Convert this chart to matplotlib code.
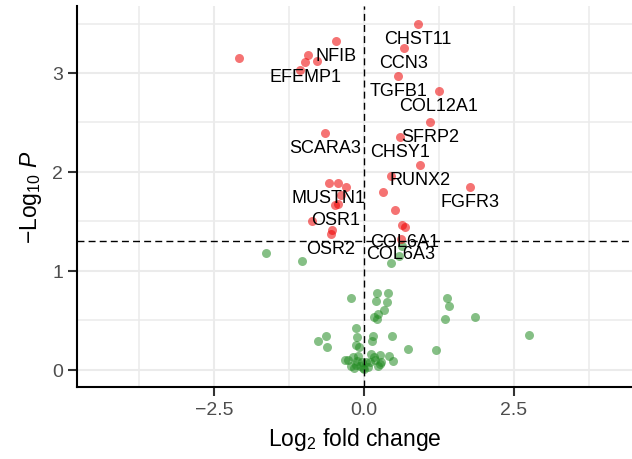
import numpy as np
import matplotlib as mpl
mpl.use("Agg")
import matplotlib.pyplot as plt

plt.rcParams['font.family'] = ['Liberation Sans', 'DejaVu Sans']
plt.rcParams['mathtext.fontset'] = 'custom'
plt.rcParams['mathtext.rm'] = 'Liberation Sans'
plt.rcParams['mathtext.it'] = 'Liberation Sans:italic'

# labelled genes
lab_genes = ["CHST11", "CCN3", "TGFB1", "COL12A1", "SFRP2", "CHSY1", "RUNX2", "FGFR3",
             "COL6A1", "COL6A3", "NFIB", "EFEMP1", "SCARA3", "MUSTN1", "OSR1", "OSR2"]
lab_fc = [0.90, 0.66, 0.57, 1.25, 1.11, 0.60, 0.94, 1.77,
          0.68, 0.62, -0.47, -0.98, -0.65, -0.59, -0.48, -0.55]
lab_p = [3.50, 3.25, 2.97, 2.82, 2.50, 2.35, 2.07, 1.85,
         1.44, 1.32, 3.32, 3.11, 2.39, 1.89, 1.67, 1.37]

# other genes (no label)
other_fc = [-2.08, -0.94, -0.79, -1.06, 0.45, 0.32, 0.52, 0.63, -0.44, -0.30, -0.38, -0.43,
            -0.86, -0.53,
            -1.64, -1.04, 0.45, 0.59, 0.64, -0.21, 0.21, 0.40, 0.20, 0.39, 0.33, 0.24, 0.16,
            0.21, 1.39, 1.42, 1.36, 1.85, 2.76, -0.13, -0.64, -0.76, -0.62, -0.12, -0.14,
            -0.09, 0.15, 0.13, 0.47, 0.73, 1.21,
            -0.32, -0.26, -0.19, -0.10, -0.12, -0.21, -0.17, -0.07, -0.01, 0.005, 0.04, 0.10,
            0.11, 0.16, 0.27, 0.24, 0.27, 0.29, 0.41, 0.48, -0.04, -0.14, 0.06, 0.19]
other_p = [3.15, 3.18, 3.12, 3.03, 1.96, 1.80, 1.61, 1.46, 1.89, 1.85, 1.77, 1.68,
           1.50, 1.41,
           1.18, 1.10, 1.08, 1.15, 1.25, 0.725, 0.775, 0.78, 0.695, 0.685, 0.60, 0.56, 0.53,
           0.51, 0.72, 0.64, 0.51, 0.53, 0.35, 0.42, 0.34, 0.29, 0.23, 0.33, 0.25,
           0.23, 0.34, 0.29, 0.34, 0.21, 0.20,
           0.095, 0.10, 0.13, 0.14, 0.09, 0.04, 0.02, 0.04, 0.02, 0.007, 0.075, 0.075,
           0.16, 0.125, 0.15, 0.04, 0.06, 0.08, 0.14, 0.09, 0.075, 0.05, 0.03, 0.10]

p_cut = -np.log10(0.05)

fc = np.array(lab_fc + other_fc)
p = np.array(lab_p + other_p)
sig = p > p_cut

fig = plt.figure(figsize=(6.32, 4.6), dpi=100)
ax = fig.add_axes([77/632, 72/460, 555/632, 381/460])

ax.scatter(fc[~sig], p[~sig], s=42, color='forestgreen', alpha=0.55, linewidths=0, zorder=3)
ax.scatter(fc[sig], p[sig], s=42, color='#ee0000', alpha=0.55, linewidths=0, zorder=3)

ax.axhline(p_cut, color='black', lw=1.0, dashes=(5, 3), zorder=4)
ax.axvline(0, color='black', lw=1.0, dashes=(5, 3), zorder=4)

for g, x, y in zip(lab_genes, lab_fc, lab_p):
    ax.annotate(g, (x, y), xytext=(0, -10.5), textcoords='offset points',
                ha='center', va='center', fontsize=13, color='black', zorder=5)

ax.set_xlim(-4.79, 4.474)
ax.set_ylim(-0.175, 3.677)
ax.set_xticks([-2.5, 0.0, 2.5])
ax.set_xticklabels(['\u22122.5', '0.0', '2.5'])
ax.set_xticks([-3.75, -1.25, 1.25, 3.75], minor=True)
ax.set_yticks([0, 1, 2, 3])
ax.set_yticks([0.5, 1.5, 2.5, 3.5], minor=True)

ax.grid(which='major', color='#ebebeb', lw=1.5, zorder=0)
ax.grid(which='minor', color='#ebebeb', lw=1.1, zorder=0)
ax.set_axisbelow(True)

for s in ['top', 'right']:
    ax.spines[s].set_visible(False)
for s in ['left', 'bottom']:
    ax.spines[s].set_linewidth(1.5)
    ax.spines[s].set_color('black')

ax.tick_params(which='major', length=6.5, width=1.5, color='#333333',
               labelsize=14, labelcolor='#4d4d4d', pad=3.5)
ax.tick_params(which='minor', length=0)

ax.set_xlabel(r'Log$_2$ fold change', fontsize=16.5, labelpad=5)
ax.set_ylabel(r'$-\mathrm{Log}_{10}\ \mathit{P}$', fontsize=16.5, labelpad=6)

fig.savefig('out.png', dpi=100)
